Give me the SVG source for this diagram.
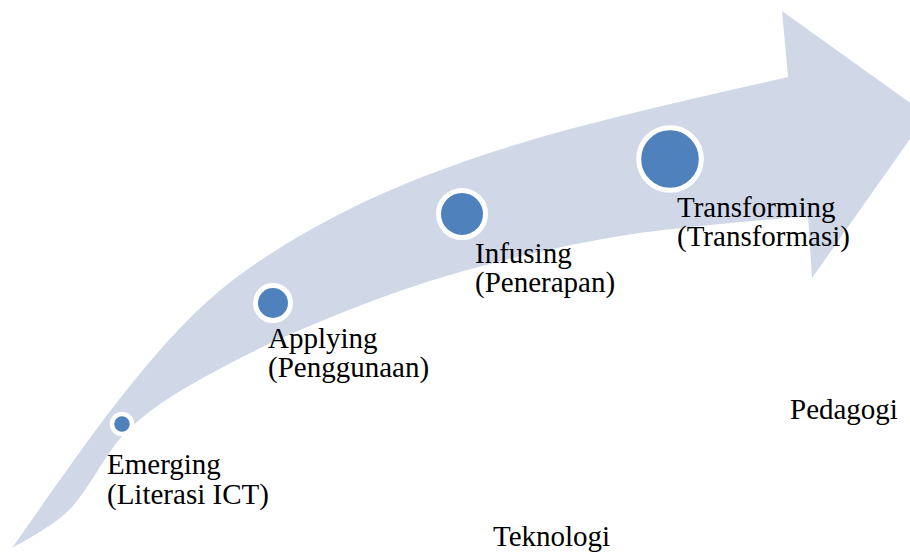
<svg xmlns="http://www.w3.org/2000/svg" width="910" height="556" viewBox="0 0 910 556">
<style>
.lbl{font-family:"Liberation Serif","Times New Roman",serif;font-size:29px;fill:#000}
.dot{fill:#4F81BD;stroke:#FFFFFF}
.band{fill:#D0D8E8}
</style>
<rect width="910" height="556" fill="#FFFFFF"/>
<g id="arrow">
<path class="band" d="M12,548 C71,465 153,340 233,280 C393,160 593,122 788,77 L782,11 L927,115 L812,278 L808,216 C776.7,219.3 679.7,226.2 620,236 C560.3,245.8 503.3,259.3 450,275 C396.7,290.7 343.8,311.3 300,330 C256.2,348.7 217,369.5 187,387 C160,403 142,416 125,433 C104,455 88,492 68,511 C50,528 24,541 12,548 Z"/>
</g>
<g id="connectors"></g>
<g id="emerging">
<circle class="dot" cx="122" cy="424" r="10" stroke-width="4.5"/>
<text class="lbl" x="107" y="474">Emerging</text>
<text class="lbl" x="107" y="504">(Literasi ICT)</text>
</g>
<g id="applying">
<circle class="dot" cx="273" cy="303" r="17.5" stroke-width="5"/>
<text class="lbl" x="268" y="348">Applying</text>
<text class="lbl" x="268" y="377">(Penggunaan)</text>
</g>
<g id="infusing">
<circle class="dot" cx="462" cy="214" r="23.5" stroke-width="5"/>
<text class="lbl" x="475" y="263">Infusing</text>
<text class="lbl" x="475" y="292">(Penerapan)</text>
</g>
<g id="transforming">
<circle class="dot" cx="670" cy="159" r="31.3" stroke-width="5"/>
<text class="lbl" x="677" y="217">Transforming</text>
<text class="lbl" x="677" y="246">(Transformasi)</text>
</g>
<g id="pedagogi">
<text class="lbl" x="790" y="419">Pedagogi</text>
</g>
<g id="teknologi">
<text class="lbl" x="493" y="546">Teknologi</text>
</g>
</svg>
